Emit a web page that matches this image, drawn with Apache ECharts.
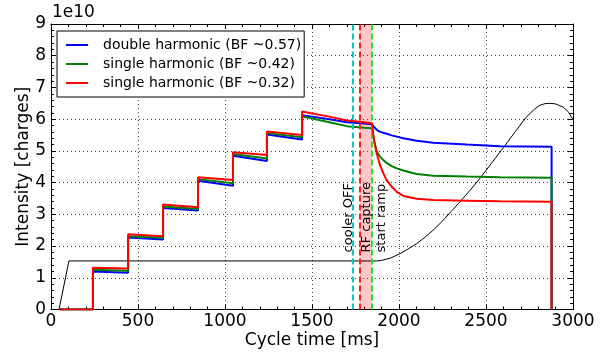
<!DOCTYPE html>
<html>
<head>
<meta charset="utf-8">
<script src="https://cdn.jsdelivr.net/npm/echarts@6/dist/echarts.min.js"></script>
<style>
html, body { margin: 0; padding: 0; background: #fff; }
#chart { width: 604px; height: 357px; }
</style>
</head>
<body>
<div id="chart"></div>
<script>
// values in units of 1e10 charges
const xTicks = [0, 500, 1000, 1500, 2000, 2500, 3000]
const yTicks = [0, 1, 2, 3, 4, 5, 6, 7, 8, 9]

const t = [50, 241, 241, 443, 443, 644, 644, 845, 845, 1046, 1046, 1241, 1241, 1443, 1443, 1500, 1600, 1700, 1800, 1845,
  1856, 1872, 1891, 1910, 1929, 1958, 1987, 2025, 2102, 2197, 2389, 2580, 2877, 2877]
const doubleH57 = [0, 0, 1.20, 1.16, 2.27, 2.21, 3.20, 3.12, 4.06, 3.90, 4.85, 4.68, 5.52, 5.36, 6.12, 6.08, 6.00, 5.90, 5.86, 5.84,
  5.76, 5.66, 5.60, 5.57, 5.54, 5.49, 5.45, 5.40, 5.32, 5.26, 5.20, 5.15, 5.13, 0]
const singleH42 = [0, 0, 1.25, 1.22, 2.31, 2.26, 3.25, 3.17, 4.11, 3.98, 4.90, 4.76, 5.56, 5.43, 6.08, 6.02, 5.90, 5.78, 5.73, 5.71,
  5.34, 4.98, 4.82, 4.71, 4.62, 4.52, 4.45, 4.38, 4.27, 4.22, 4.19, 4.17, 4.15, 0]
const singleH32 = [0, 0, 1.32, 1.29, 2.37, 2.31, 3.31, 3.22, 4.17, 4.08, 4.96, 4.87, 5.61, 5.50, 6.24, 6.18, 6.08, 5.96, 5.90, 5.87,
  5.34, 4.92, 4.55, 4.29, 4.08, 3.87, 3.71, 3.58, 3.49, 3.45, 3.43, 3.41, 3.40, 0]

const rampT = [46, 103, 1870, 1900, 1950, 2006, 2050, 2100, 2150, 2200, 2250, 2300, 2351, 2410, 2466, 2530, 2600, 2670, 2734,
  2780, 2810, 2840, 2868, 2900, 2944, 2975, 3000]
const rampVals = [0, 1.53, 1.53, 1.55, 1.62, 1.76, 1.90, 2.07, 2.28, 2.52, 2.79, 3.09, 3.40, 3.77, 4.14, 4.60, 5.10, 5.62, 6.08,
  6.32, 6.44, 6.49, 6.50, 6.48, 6.38, 6.22, 5.98]

const coolerOff = 1732
const rfCapture = [1775, 1845]
const startRamp = 1845

const names = ['double harmonic (BF ~0.57)', 'single harmonic (BF ~0.42)', 'single harmonic (BF ~0.32)']
const colors = ['#0000ff', '#008000', '#ff0000']
const seriesVals = [doubleH57, singleH42, singleH32]

const FONT = 'DejaVu Sans'
const pairs = (xs, ys) => xs.map((x, i) => [x, ys[i]])

const axisCommon = {
  type: 'value',
  axisLine: { show: true, onZero: false, lineStyle: { color: '#000', width: 1 } },
  axisTick: { show: true, inside: true, length: 5, lineStyle: { color: '#000' } },
  minorTick: { show: true, splitNumber: 5, length: 3, lineStyle: { color: '#000' } },
}

const chart = echarts.init(document.getElementById('chart'), null, { renderer: 'canvas' })

const option = {
  backgroundColor: '#fff',
  animation: false,
  grid: { left: 51, right: 31, top: 24, bottom: 47.5, containLabel: false, outerBoundsMode: 'none' },
  legend: {
    data: names,
    orient: 'vertical',
    left: 57,
    top: 31,
    padding: [6, 3, 6, 9],
    itemGap: 3,
    itemWidth: 22,
    itemHeight: 2,
    icon: 'rect',
    backgroundColor: '#fff',
    borderColor: '#000',
    borderWidth: 1,
    borderRadius: 0,
    textStyle: { fontFamily: FONT, fontSize: 14, color: '#000', padding: [0, 0, 0, 10], lineHeight: 16 },
  },
  xAxis: [
    {
      ...axisCommon,
      min: xTicks[0], max: xTicks[xTicks.length - 1], interval: 500,
      name: 'Cycle time [ms]', nameLocation: 'middle', nameGap: 23, nameMoveOverlap: false,
      nameTextStyle: { fontFamily: FONT, fontSize: 17, color: '#000' },
      axisLabel: { fontFamily: FONT, fontSize: 17, color: '#000', margin: 4, showMinLabel: true, showMaxLabel: true,
        formatter: v => String(v) },
      splitLine: { show: true, lineStyle: { color: '#444', type: [1, 3], width: 1 } },
    },
    {
      ...axisCommon,
      position: 'top',
      min: xTicks[0], max: xTicks[xTicks.length - 1], interval: 500,
      axisLabel: { show: false },
      splitLine: { show: false },
    },
  ],
  yAxis: [
    {
      ...axisCommon,
      min: yTicks[0], max: yTicks[yTicks.length - 1], interval: 1,
      name: 'Intensity [charges]', nameLocation: 'middle', nameGap: 19, nameMoveOverlap: false,
      nameTextStyle: { fontFamily: FONT, fontSize: 17, color: '#000' },
      axisLabel: { fontFamily: FONT, fontSize: 17, color: '#000', margin: 5, showMinLabel: true, showMaxLabel: true,
        formatter: v => String(v) },
      splitLine: { show: true, lineStyle: { color: '#444', type: [1, 3], width: 1 } },
    },
    {
      ...axisCommon,
      position: 'right',
      min: yTicks[0], max: yTicks[yTicks.length - 1], interval: 1,
      axisLabel: { show: false },
      splitLine: { show: false },
    },
  ],
  series: [
    {
      name: 'ramp',
      type: 'line',
      data: pairs(rampT, rampVals),
      showSymbol: false,
      lineStyle: { color: '#000', width: 1 },
      z: 2,
    },
    ...seriesVals.map((vals, i) => ({
      name: names[i],
      type: 'line',
      data: pairs(t, vals),
      showSymbol: false,
      color: colors[i],
      lineStyle: { color: colors[i], width: 2 },
      z: 3 + i,
    })),
    {
      name: 'markers',
      type: 'line',
      data: [],
      z: 10,
      markArea: {
        silent: true,
        itemStyle: { color: 'rgba(255,0,0,0.22)' },
        data: [[{ xAxis: rfCapture[0] }, { xAxis: rfCapture[1] }]],
      },
      markLine: {
        silent: true,
        symbol: 'none',
        label: { show: false },
        data: [
          { xAxis: coolerOff, lineStyle: { color: '#10c4c4', type: [6, 3], width: 2 } },
          { xAxis: rfCapture[0], lineStyle: { color: '#ff2020', type: [6, 3], width: 2 } },
          { xAxis: startRamp, lineStyle: { color: '#22e822', type: [6, 3], width: 2 } },
        ],
      },
    },
  ],
}

chart.setOption(option)

const px = (x, y) => chart.convertToPixel({ xAxisIndex: 0, yAxisIndex: 0 }, [x, y])
const textBase = px(0, 1.8)[1]
const vText = (x, dx, str) => ({
  type: 'text',
  x: px(x, 0)[0] + dx,
  y: textBase,
  rotation: Math.PI / 2,
  style: { text: str, fontFamily: FONT, fontSize: 13, fill: '#000', align: 'left', verticalAlign: 'bottom' },
  z: 20,
})

chart.setOption({
  graphic: [
    {
      type: 'text',
      left: 52,
      top: 4,
      style: { text: '1e10', fontFamily: FONT, fontSize: 17, fill: '#000' },
    },
    vText(coolerOff, 3, 'cooler OFF'),
    vText(startRamp, 1, 'RF capture'),
    vText(startRamp, 16, 'start ramp'),
  ],
})
</script>
</body>
</html>
